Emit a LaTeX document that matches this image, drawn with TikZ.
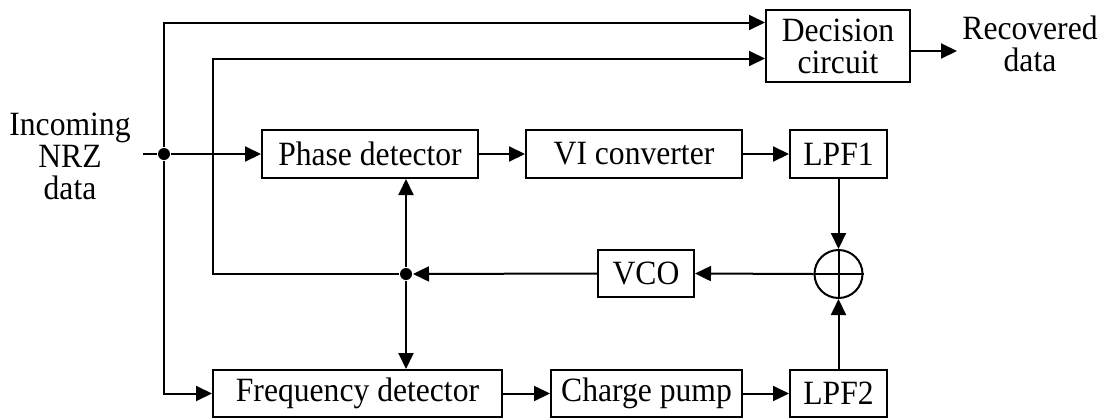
\documentclass[tikz,border=0pt]{standalone}
\usepackage{fontspec}
\setmainfont{Liberation Serif}[FakeStretch=0.93]
\usetikzlibrary{arrows.meta,calc}
\begin{document}
\begin{tikzpicture}[x=1pt,y=-1pt,
  every node/.style={font=\fontsize{34}{32}\selectfont, inner sep=0pt},
  blk/.style={draw, line width=2pt, minimum height=47pt},
  arr/.style={-{Triangle[length=16pt,width=15pt]}},
  wire/.style={line width=2pt},
  dotn/.style={circle, fill, minimum size=12pt, inner sep=0pt},
  sumn/.style={circle, draw, line width=2pt, minimum size=48pt, inner sep=0pt}]
\useasboundingbox (0,0) rectangle (1105,418);
\begin{scope}[wire]
% blocks
\node[blk, minimum width=216pt, minimum height=48pt] (PD) at (370,154) {Phase detector};
\node[blk, minimum width=216pt, minimum height=48pt] (VI) at (634,154) {VI converter};
\node[blk, minimum width=97pt, minimum height=48pt] (LPF1) at (838.5,154) {LPF1};
\node[blk, minimum width=144pt, minimum height=72pt, align=center] (Dec) at (838,46) {Decision\\circuit};
\node[blk, minimum width=96pt] (VCO) at (646,273.5) {VCO};
\node[blk, minimum width=289pt] (FD) at (357.5,393.5) {Frequency detector};
\node[blk, minimum width=191pt] (CP) at (646.5,393.5) {Charge pump};
\node[blk, minimum width=97pt] (LPF2) at (838.5,393.5) {LPF2};
\node[sumn] (sum) at (838.5,274) {};
\draw (sum.north) -- (sum.south);
\draw (sum.west) -- (sum.east);
% texts
\node[align=center] (inc) at (70,156) {Incoming\\NRZ\\data};
\node[align=center] (rec) at (1030,44) {Recovered\\data};
% junctions
\coordinate (in) at (143,154);
\node[dotn] (j1) at (164,154) {};
\node[dotn] (j2) at (406,274) {};
\coordinate (c1) at (213,274);
\coordinate (out) at (957,51);
% connectors
\draw (in) -- (j1);
\draw[arr] (j1) -- (PD.west);
\draw[arr] (j1) |- ([yshift=23.5pt]Dec.west);
\draw[arr] (j1) |- (FD.west);
\draw[arr] (PD.east) -- (VI.west);
\draw[arr] (VI.east) -- (LPF1.west);
\draw[arr] (LPF1.south) -- (sum.north);
\draw[arr] (LPF2.north) -- (sum.south);
\draw[arr] (FD.east) -- (CP.west);
\draw[arr] (CP.east) -- (LPF2.west);
\draw[arr] (sum.west) -- (VCO.east);
\draw[arr] (VCO.west) -- (j2);
\draw[arr] (j2) -- (c1) |- ([yshift=-12.5pt]Dec.west);
\draw[arr] (j2) -- (j2 |- PD.south);
\draw[arr] (j2) -- (j2 |- FD.north);
\draw[arr] (Dec.east |- out) -- (out);
\end{scope}
\end{tikzpicture}
\end{document}
